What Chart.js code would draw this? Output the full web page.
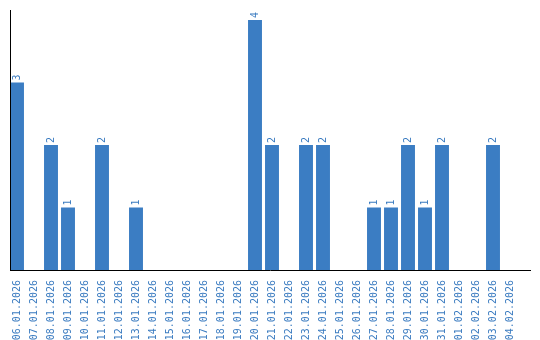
<!DOCTYPE html>
<html>
<head>
<meta charset="utf-8">
<script src="https://cdn.jsdelivr.net/npm/chart.js@4"></script>
<style>
  html, body { margin: 0; padding: 0; background: #fff; }
  #wrap { width: 540px; height: 340px; }
</style>
</head>
<body>
<div id="wrap"><canvas id="dayChart" width="540" height="340"></canvas></div>
<script>
// Days and counts
const days = [
  '06.01.2026', '07.01.2026', '08.01.2026', '09.01.2026', '10.01.2026',
  '11.01.2026', '12.01.2026', '13.01.2026', '14.01.2026', '15.01.2026',
  '16.01.2026', '17.01.2026', '18.01.2026', '19.01.2026', '20.01.2026',
  '21.01.2026', '22.01.2026', '23.01.2026', '24.01.2026', '25.01.2026',
  '26.01.2026', '27.01.2026', '28.01.2026', '29.01.2026', '30.01.2026',
  '31.01.2026', '01.02.2026', '02.02.2026', '03.02.2026', '04.02.2026'
];
const counts = [3, 0, 2, 1, 0, 2, 0, 1, 0, 0, 0, 0, 0, 0, 4, 2, 0, 2, 2, 0, 0, 1, 1, 2, 1, 2, 0, 0, 2, 0];

const blue = '#3b7dc3';
const textBlue = '#3a7bc0';
const fontFamily = '"DejaVu Sans Mono", monospace';

// axis lines (drawn a bit wider than the plot area, like the original)
const axisLines = {
  id: 'axisLines',
  afterDatasetsDraw(chart) {
    const { ctx, chartArea } = chart;
    ctx.save();
    ctx.strokeStyle = '#000';
    ctx.lineWidth = 1;
    ctx.beginPath();
    ctx.moveTo(10.5, chartArea.top);
    ctx.lineTo(10.5, chartArea.bottom + 1);
    ctx.moveTo(10, chartArea.bottom + 0.5);
    ctx.lineTo(531, chartArea.bottom + 0.5);
    ctx.stroke();
    ctx.restore();
  }
};

// rotated value labels above the bars
const valueLabels = {
  id: 'valueLabels',
  afterDatasetsDraw(chart) {
    const { ctx } = chart;
    const meta = chart.getDatasetMeta(0);
    ctx.save();
    ctx.fillStyle = textBlue;
    ctx.font = '10px ' + fontFamily;
    ctx.textAlign = 'left';
    ctx.textBaseline = 'middle';
    meta.data.forEach((bar, i) => {
      const v = counts[i];
      if (!v) return;
      ctx.save();
      ctx.translate(bar.x, bar.y - 2);
      ctx.rotate(-Math.PI / 2);
      ctx.fillText(String(v), 0, 0);
      ctx.restore();
    });
    ctx.restore();
  }
};

const ctx = document.getElementById('dayChart').getContext('2d');
new Chart(ctx, {
  type: 'bar',
  data: {
    labels: days,
    datasets: [{
      data: counts,
      backgroundColor: blue,
      categoryPercentage: 1,
      barPercentage: 0.82
    }]
  },
  options: {
    responsive: false,
    animation: false,
    layout: { padding: { left: 8.5, right: 21.5, top: 10, bottom: 0 } },
    plugins: {
      legend: { display: false },
      tooltip: { enabled: false }
    },
    scales: {
      x: {
        grid: { display: false },
        border: { display: false },
        ticks: {
          color: textBlue,
          font: { family: fontFamily, size: 10 },
          minRotation: 90,
          maxRotation: 90,
          autoSkip: false,
          padding: 2
        },
        afterFit(scale) { scale.height = 70; }
      },
      y: {
        display: false,
        min: 0,
        max: 4.16
      }
    }
  },
  plugins: [axisLines, valueLabels]
});
</script>
</body>
</html>
